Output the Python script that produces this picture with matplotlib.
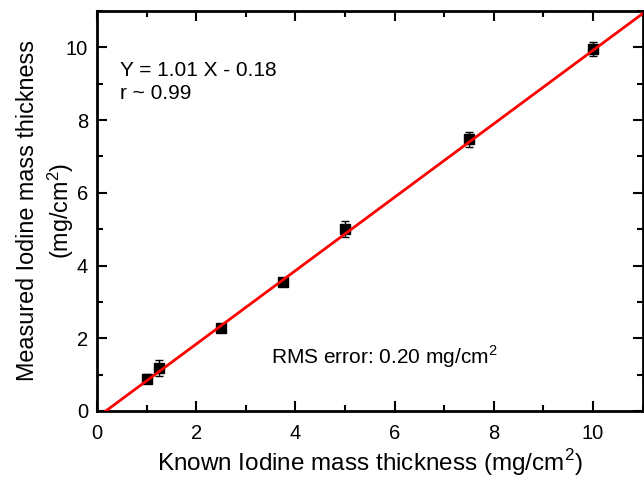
import matplotlib
matplotlib.use("Agg")
import matplotlib.pyplot as plt
import numpy as np
from matplotlib.ticker import MultipleLocator

plt.rcParams['font.family'] = ['Liberation Sans', 'DejaVu Sans']
plt.rcParams['mathtext.fontset'] = 'custom'
plt.rcParams['mathtext.rm'] = 'Liberation Sans'

known = [1.0, 1.25, 2.5, 3.75, 5.0, 7.5, 10.0]
measured = [0.89, 1.18, 2.27, 3.55, 5.0, 7.47, 9.95]
errors = [0.12, 0.23, 0.08, 0.06, 0.22, 0.2, 0.2]
slope = 1.01
intercept = -0.18
fit_x = [0.0, 11.0]

fig = plt.figure(figsize=(6.44, 4.79), dpi=100)
ax = fig.add_axes([0.1506, 0.142, 0.8474, 0.835])

ax.errorbar(known, measured, yerr=errors, fmt='s', color='black', ms=7,
            ecolor='black', elinewidth=1, capsize=3, capthick=1, zorder=3)
fx = np.array(fit_x)
ax.plot(fx, slope * fx + intercept, color='red', lw=2, zorder=4)

ax.set_xlim(0, 11)
ax.set_ylim(0, 11)
ax.xaxis.set_major_locator(MultipleLocator(2))
ax.xaxis.set_minor_locator(MultipleLocator(1))
ax.yaxis.set_major_locator(MultipleLocator(2))
ax.yaxis.set_minor_locator(MultipleLocator(1))
ax.tick_params(which='both', direction='in', top=True, right=True, width=1.5,
               labelsize=14.5)
ax.tick_params(which='major', length=7)
ax.tick_params(which='minor', length=4)
ax.tick_params(axis='x', which='major', pad=9.5)
ax.tick_params(axis='y', which='major', pad=6.5)
for s in ax.spines.values():
    s.set_linewidth(2)

ax.set_xlabel('Known Iodine mass thickness (mg/cm$^2$)', fontsize=17.5, labelpad=3)
ax.set_ylabel('Measured Iodine mass thickness', fontsize=16.8, va='center')
ax.yaxis.set_label_coords(-0.128, 0.5)
ax.text(-0.066, 0.5, '(mg/cm$^2$)', fontsize=16.8, rotation=90, ha='center',
        va='center', rotation_mode='anchor', transform=ax.transAxes)

ax.text(0.46, 9.05, 'Y = 1.01 X - 0.18\nr ~ 0.99', fontsize=15, va='center',
        ha='left', linespacing=1.25)
ax.text(3.5, 1.48, 'RMS error: 0.20 mg/cm$^2$', fontsize=15, va='center', ha='left')

fig.savefig('out.png', dpi=100)
